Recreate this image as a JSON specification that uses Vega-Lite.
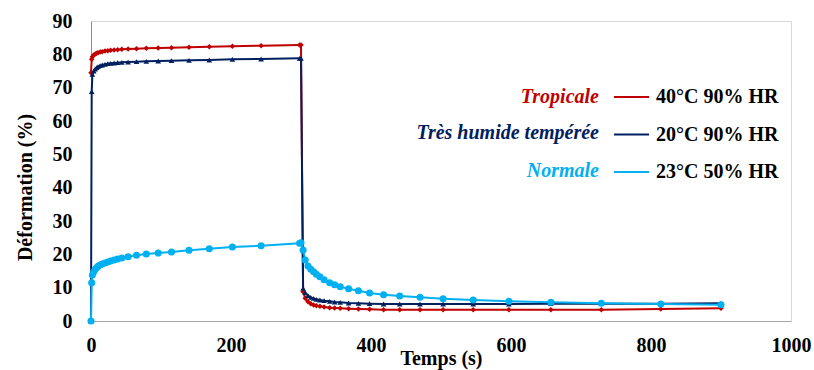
{
  "$schema": "https://vega.github.io/schema/vega-lite/v6.json",
  "width": 700,
  "height": 300,
  "autosize": {"type": "none"},
  "padding": {"left": 91, "top": 21, "right": 23, "bottom": 49},
  "background": "white",
  "config": {
    "view": {"stroke": "#d9d9d9", "strokeWidth": 1},
    "font": "Times New Roman, Liberation Serif, serif"
  },
  "datasets": {
    "d": [
      {"serie":"40°C 90% HR","t":0,"v":74.5},{"serie":"40°C 90% HR","t":1,"v":78.5},{"serie":"40°C 90% HR","t":2,"v":79.3},{"serie":"40°C 90% HR","t":4,"v":79.8},{"serie":"40°C 90% HR","t":6,"v":80.1},{"serie":"40°C 90% HR","t":8,"v":80.3},{"serie":"40°C 90% HR","t":10,"v":80.5},{"serie":"40°C 90% HR","t":13,"v":80.7},{"serie":"40°C 90% HR","t":16,"v":80.8},{"serie":"40°C 90% HR","t":20,"v":81.0},{"serie":"40°C 90% HR","t":24,"v":81.1},{"serie":"40°C 90% HR","t":28,"v":81.2},{"serie":"40°C 90% HR","t":33,"v":81.3},{"serie":"40°C 90% HR","t":38,"v":81.4},{"serie":"40°C 90% HR","t":44,"v":81.5},{"serie":"40°C 90% HR","t":53,"v":81.6},{"serie":"40°C 90% HR","t":65,"v":81.7},{"serie":"40°C 90% HR","t":79,"v":81.8},{"serie":"40°C 90% HR","t":96,"v":81.9},{"serie":"40°C 90% HR","t":115,"v":82.0},{"serie":"40°C 90% HR","t":140,"v":82.1},{"serie":"40°C 90% HR","t":169,"v":82.3},{"serie":"40°C 90% HR","t":202,"v":82.4},{"serie":"40°C 90% HR","t":243,"v":82.6},{"serie":"40°C 90% HR","t":298,"v":82.8},{"serie":"40°C 90% HR","t":300,"v":82.8},
      {"serie":"40°C 90% HR","t":303,"v":8.8},{"serie":"40°C 90% HR","t":306,"v":6.8},{"serie":"40°C 90% HR","t":310,"v":5.8},{"serie":"40°C 90% HR","t":314,"v":5.2},{"serie":"40°C 90% HR","t":318,"v":4.8},{"serie":"40°C 90% HR","t":322,"v":4.6},{"serie":"40°C 90% HR","t":327,"v":4.4},{"serie":"40°C 90% HR","t":333,"v":4.2},{"serie":"40°C 90% HR","t":341,"v":4.0},{"serie":"40°C 90% HR","t":348,"v":3.9},{"serie":"40°C 90% HR","t":356,"v":3.8},{"serie":"40°C 90% HR","t":368,"v":3.7},{"serie":"40°C 90% HR","t":382,"v":3.6},{"serie":"40°C 90% HR","t":398,"v":3.5},{"serie":"40°C 90% HR","t":418,"v":3.4},{"serie":"40°C 90% HR","t":441,"v":3.4},{"serie":"40°C 90% HR","t":470,"v":3.4},{"serie":"40°C 90% HR","t":503,"v":3.4},{"serie":"40°C 90% HR","t":546,"v":3.4},{"serie":"40°C 90% HR","t":597,"v":3.4},{"serie":"40°C 90% HR","t":657,"v":3.4},{"serie":"40°C 90% HR","t":729,"v":3.4},{"serie":"40°C 90% HR","t":814,"v":3.6},{"serie":"40°C 90% HR","t":900,"v":3.8},
      {"serie":"20°C 90% HR","t":0,"v":0},{"serie":"20°C 90% HR","t":1,"v":68.8},{"serie":"20°C 90% HR","t":2,"v":74.0},{"serie":"20°C 90% HR","t":4,"v":75.0},{"serie":"20°C 90% HR","t":6,"v":75.6},{"serie":"20°C 90% HR","t":8,"v":76.0},{"serie":"20°C 90% HR","t":10,"v":76.3},{"serie":"20°C 90% HR","t":13,"v":76.6},{"serie":"20°C 90% HR","t":16,"v":76.8},{"serie":"20°C 90% HR","t":20,"v":77.0},{"serie":"20°C 90% HR","t":24,"v":77.2},{"serie":"20°C 90% HR","t":28,"v":77.3},{"serie":"20°C 90% HR","t":33,"v":77.4},{"serie":"20°C 90% HR","t":38,"v":77.5},{"serie":"20°C 90% HR","t":44,"v":77.6},{"serie":"20°C 90% HR","t":53,"v":77.7},{"serie":"20°C 90% HR","t":65,"v":77.8},{"serie":"20°C 90% HR","t":79,"v":77.9},{"serie":"20°C 90% HR","t":96,"v":78.0},{"serie":"20°C 90% HR","t":115,"v":78.1},{"serie":"20°C 90% HR","t":140,"v":78.2},{"serie":"20°C 90% HR","t":169,"v":78.3},{"serie":"20°C 90% HR","t":202,"v":78.5},{"serie":"20°C 90% HR","t":243,"v":78.6},{"serie":"20°C 90% HR","t":298,"v":78.8},{"serie":"20°C 90% HR","t":300,"v":78.8},
      {"serie":"20°C 90% HR","t":303,"v":9.8},{"serie":"20°C 90% HR","t":306,"v":8.5},{"serie":"20°C 90% HR","t":310,"v":7.6},{"serie":"20°C 90% HR","t":314,"v":7.1},{"serie":"20°C 90% HR","t":318,"v":6.8},{"serie":"20°C 90% HR","t":322,"v":6.5},{"serie":"20°C 90% HR","t":327,"v":6.3},{"serie":"20°C 90% HR","t":333,"v":6.1},{"serie":"20°C 90% HR","t":341,"v":5.9},{"serie":"20°C 90% HR","t":348,"v":5.7},{"serie":"20°C 90% HR","t":356,"v":5.6},{"serie":"20°C 90% HR","t":368,"v":5.4},{"serie":"20°C 90% HR","t":382,"v":5.3},{"serie":"20°C 90% HR","t":398,"v":5.2},{"serie":"20°C 90% HR","t":418,"v":5.1},{"serie":"20°C 90% HR","t":441,"v":5.1},{"serie":"20°C 90% HR","t":470,"v":5.1},{"serie":"20°C 90% HR","t":503,"v":5.1},{"serie":"20°C 90% HR","t":546,"v":5.1},{"serie":"20°C 90% HR","t":597,"v":5.1},{"serie":"20°C 90% HR","t":657,"v":5.2},{"serie":"20°C 90% HR","t":729,"v":5.2},{"serie":"20°C 90% HR","t":814,"v":5.2},{"serie":"20°C 90% HR","t":900,"v":5.3},
      {"serie":"23°C 50% HR","t":0,"v":0},{"serie":"23°C 50% HR","t":1,"v":11.5},{"serie":"23°C 50% HR","t":2,"v":13.8},{"serie":"23°C 50% HR","t":4,"v":14.8},{"serie":"23°C 50% HR","t":6,"v":15.5},{"serie":"23°C 50% HR","t":8,"v":16.0},{"serie":"23°C 50% HR","t":10,"v":16.4},{"serie":"23°C 50% HR","t":13,"v":16.8},{"serie":"23°C 50% HR","t":16,"v":17.1},{"serie":"23°C 50% HR","t":20,"v":17.4},{"serie":"23°C 50% HR","t":24,"v":17.7},{"serie":"23°C 50% HR","t":28,"v":18.0},{"serie":"23°C 50% HR","t":33,"v":18.3},{"serie":"23°C 50% HR","t":38,"v":18.6},{"serie":"23°C 50% HR","t":44,"v":18.9},{"serie":"23°C 50% HR","t":53,"v":19.3},{"serie":"23°C 50% HR","t":65,"v":19.7},{"serie":"23°C 50% HR","t":79,"v":20.1},{"serie":"23°C 50% HR","t":96,"v":20.4},{"serie":"23°C 50% HR","t":115,"v":20.7},{"serie":"23°C 50% HR","t":140,"v":21.2},{"serie":"23°C 50% HR","t":169,"v":21.7},{"serie":"23°C 50% HR","t":202,"v":22.2},{"serie":"23°C 50% HR","t":243,"v":22.6},{"serie":"23°C 50% HR","t":298,"v":23.3},{"serie":"23°C 50% HR","t":300,"v":23.5},
      {"serie":"23°C 50% HR","t":303,"v":21.3},{"serie":"23°C 50% HR","t":306,"v":18.3},{"serie":"23°C 50% HR","t":310,"v":16.5},{"serie":"23°C 50% HR","t":314,"v":15.5},{"serie":"23°C 50% HR","t":318,"v":14.8},{"serie":"23°C 50% HR","t":322,"v":14.0},{"serie":"23°C 50% HR","t":327,"v":13.3},{"serie":"23°C 50% HR","t":333,"v":12.4},{"serie":"23°C 50% HR","t":341,"v":11.5},{"serie":"23°C 50% HR","t":348,"v":10.9},{"serie":"23°C 50% HR","t":356,"v":10.3},{"serie":"23°C 50% HR","t":368,"v":9.7},{"serie":"23°C 50% HR","t":382,"v":9.1},{"serie":"23°C 50% HR","t":398,"v":8.4},{"serie":"23°C 50% HR","t":418,"v":7.9},{"serie":"23°C 50% HR","t":441,"v":7.5},{"serie":"23°C 50% HR","t":470,"v":7.1},{"serie":"23°C 50% HR","t":503,"v":6.7},{"serie":"23°C 50% HR","t":546,"v":6.3},{"serie":"23°C 50% HR","t":597,"v":5.9},{"serie":"23°C 50% HR","t":657,"v":5.6},{"serie":"23°C 50% HR","t":729,"v":5.3},{"serie":"23°C 50% HR","t":814,"v":5.1},{"serie":"23°C 50% HR","t":900,"v":4.9}
    ]
  },
  "layer": [
    {
      "data": {"name": "d"},
      "mark": {"type": "line", "strokeWidth": 2},
      "encoding": {
        "x": {"field": "t", "type": "quantitative", "scale": {"domain": [0, 1000], "nice": false},
          "axis": {"values": [0, 200, 400, 600, 800, 1000], "format": "d", "title": "Temps (s)", "grid": false, "ticks": false, "tickSize": 0,
            "domainColor": "#a6a6a6", "domainWidth": 1,
            "labelFont": "Times New Roman, Liberation Serif, serif", "labelFontSize": 20, "labelFontWeight": "bold", "labelColor": "black",
            "labelPadding": 14, "labelFlush": false, "labelOverlap": false,
            "titleFont": "Times New Roman, Liberation Serif, serif", "titleFontSize": 20, "titleFontWeight": "bold", "titleColor": "black", "titleY": 37, "titleBaseline": "middle"}},
        "y": {"field": "v", "type": "quantitative", "scale": {"domain": [0, 90], "nice": false},
          "axis": {"values": [0, 10, 20, 30, 40, 50, 60, 70, 80, 90], "tickCount": 10, "title": "Déformation (%)", "grid": false, "ticks": false, "tickSize": 0,
            "domainColor": "#8c8c8c", "domainWidth": 1,
            "labelFont": "Times New Roman, Liberation Serif, serif", "labelFontSize": 20, "labelFontWeight": "bold", "labelColor": "black",
            "labelPadding": 19, "labelFlush": false, "labelOverlap": false, "labelSeparation": 0,
            "titleFont": "Times New Roman, Liberation Serif, serif", "titleFontSize": 20, "titleFontWeight": "bold", "titleColor": "black",
            "titleX": -66, "titleY": 166, "titleBaseline": "middle", "titleAlign": "center", "titleAngle": -90}},
        "color": {"field": "serie", "type": "nominal",
          "scale": {"domain": ["40°C 90% HR", "20°C 90% HR", "23°C 50% HR"], "range": ["#C00000", "#002060", "#00B0F0"]},
          "legend": {"title": null, "orient": "none", "legendX": 522, "legendY": 57.5, "symbolType": "stroke", "symbolSize": 1225, "symbolStrokeWidth": 2,
            "labelFont": "Times New Roman, Liberation Serif, serif", "labelFontSize": 20, "labelFontWeight": "bold", "labelColor": "black", "labelOffset": 6, "rowPadding": 8.5, "padding": 0}}
      }
    },
    {
      "data": {"name": "d"},
      "transform": [{"filter": "datum.serie == '40°C 90% HR'"}],
      "mark": {"type": "point", "filled": true, "opacity": 1, "shape": "diamond", "size": 30, "color": "#C00000"},
      "encoding": {"x": {"field": "t", "type": "quantitative"}, "y": {"field": "v", "type": "quantitative"}}
    },
    {
      "data": {"name": "d"},
      "transform": [{"filter": "datum.serie == '20°C 90% HR'"}],
      "mark": {"type": "point", "filled": true, "opacity": 1, "shape": "triangle-up", "size": 32, "color": "#002060"},
      "encoding": {"x": {"field": "t", "type": "quantitative"}, "y": {"field": "v", "type": "quantitative"}}
    },
    {
      "data": {"name": "d"},
      "transform": [{"filter": "datum.serie == '23°C 50% HR'"}],
      "mark": {"type": "point", "filled": true, "opacity": 1, "shape": "circle", "size": 50, "color": "#00B0F0"},
      "encoding": {"x": {"field": "t", "type": "quantitative"}, "y": {"field": "v", "type": "quantitative"}}
    },
    {
      "data": {"values": [{}]},
      "mark": {"type": "text", "align": "right", "baseline": "middle", "font": "Times New Roman, Liberation Serif, serif", "fontSize": 20, "fontWeight": "bold", "fontStyle": "italic", "color": "#C00000"},
      "encoding": {"x": {"datum": 725.7}, "y": {"datum": 67.35}, "text": {"value": "Tropicale"}}
    },
    {
      "data": {"values": [{}]},
      "mark": {"type": "text", "align": "right", "baseline": "middle", "font": "Times New Roman, Liberation Serif, serif", "fontSize": 20, "fontWeight": "bold", "fontStyle": "italic", "color": "#002060"},
      "encoding": {"x": {"datum": 725.7}, "y": {"datum": 56.3}, "text": {"value": "Très humide tempérée"}}
    },
    {
      "data": {"values": [{}]},
      "mark": {"type": "text", "align": "right", "baseline": "middle", "font": "Times New Roman, Liberation Serif, serif", "fontSize": 20, "fontWeight": "bold", "fontStyle": "italic", "color": "#00B0F0"},
      "encoding": {"x": {"datum": 725.7}, "y": {"datum": 45.1}, "text": {"value": "Normale"}}
    }
  ]
}
